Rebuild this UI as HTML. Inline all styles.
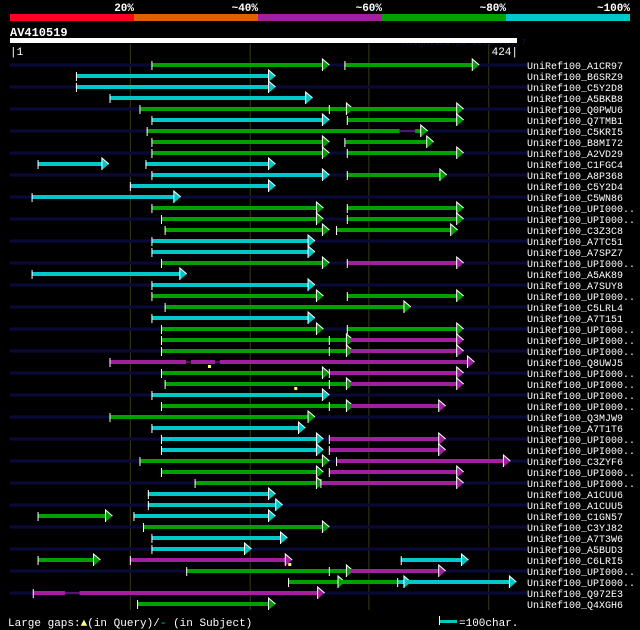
<!DOCTYPE html>
<html><head><meta charset="utf-8">
<style>
html,body{margin:0;padding:0;background:#000;}
svg{display:block;}
text{font-family:"Liberation Mono",monospace;}
</style></head>
<body>
<svg id="chart" width="640" height="630" viewBox="0 0 640 630" xmlns="http://www.w3.org/2000/svg">
<rect x="0" y="0" width="640" height="630" fill="#000"/>
<g>
<rect x="10" y="14" width="124" height="7" fill="#ff0022"/>
<rect x="134" y="14" width="124" height="7" fill="#e06000"/>
<rect x="258" y="14" width="124" height="7" fill="#a020a0"/>
<rect x="382" y="14" width="124" height="7" fill="#00a000"/>
<rect x="506" y="14" width="124" height="7" fill="#00c8c8"/>
<g font-size="11" font-weight="bold" fill="#fff" text-anchor="end">
<text x="134" y="11">20%</text>
<text x="258" y="11">~40%</text>
<text x="382" y="11">~60%</text>
<text x="506" y="11">~80%</text>
<text x="630" y="11">~100%</text>
</g></g>
<text x="10" y="36" font-size="12" font-weight="bold" fill="#fff">AV410519</text>
<text x="402" y="45" font-size="9" fill="#101040">AlignView.pm Beta rel.7</text>
<rect x="10" y="38" width="507" height="5" fill="#fff"/>
<text x="10" y="55" font-size="11" fill="#fff">|1</text>
<text x="518" y="55" font-size="11" fill="#fff" text-anchor="end">424|</text>
<g id="grid"></g>
<g id="rows"></g>
<g>
<text x="8" y="626" font-size="11" fill="#fff">Large gaps:<tspan fill="#ffff80">▲</tspan>(in Query)/<tspan fill="#00c8c8">-</tspan> (in Subject)</text>
<rect x="440" y="620" width="17" height="3" fill="#00c8c8"/>
<rect x="439" y="616" width="1" height="9" fill="#fff"/>
<text x="459" y="626" font-size="11" fill="#fff">=100char.</text>
</g>
</svg>
<script>
const names=["UniRef100_A1CR97","UniRef100_B6SRZ9","UniRef100_C5Y2D8","UniRef100_A5BKB8","UniRef100_Q0PWU6","UniRef100_Q7TMB1","UniRef100_C5KRI5","UniRef100_B8MI72","UniRef100_A2VD29","UniRef100_C1FGC4","UniRef100_A8P368","UniRef100_C5Y2D4","UniRef100_C5WN86","UniRef100_UPI000..","UniRef100_UPI000..","UniRef100_C3Z3C8","UniRef100_A7TC51","UniRef100_A7SPZ7","UniRef100_UPI000..","UniRef100_A5AK89","UniRef100_A7SUY8","UniRef100_UPI000..","UniRef100_C5LRL4","UniRef100_A7T151","UniRef100_UPI000..","UniRef100_UPI000..","UniRef100_UPI000..","UniRef100_Q8UWJ5","UniRef100_UPI000..","UniRef100_UPI000..","UniRef100_UPI000..","UniRef100_UPI000..","UniRef100_Q3MJW9","UniRef100_A7T1T6","UniRef100_UPI000..","UniRef100_UPI000..","UniRef100_C3ZYF6","UniRef100_UPI000..","UniRef100_UPI000..","UniRef100_A1CUU6","UniRef100_A1CUU5","UniRef100_C1GN57","UniRef100_C3YJ82","UniRef100_A7T3W6","UniRef100_A5BUD3","UniRef100_C6LRI5","UniRef100_UPI000..","UniRef100_UPI000..","UniRef100_Q972E3","UniRef100_Q4XGH6"];
// segments: [row, qStart, qEnd, colorKey, startTick, endArrow]
const segments=[
[0,119,265,"g",1,1],[0,280,390,"g",1,1],
[1,56,220,"c",1,1],[2,56,220,"c",1,1],[3,84,251,"c",1,1],
[4,109,285,"g",1,1],[4,285,377,"g",0,1],
[5,119,265,"c",1,1],[5,282,377,"g",1,1],
[6,115,326,"g",1,0],[6,339,347,"g",0,1],
[7,119,265,"g",1,1],[7,280,352,"g",1,1],
[8,119,265,"g",1,1],[8,282,377,"g",1,1],
[9,24,81,"c",1,1],[9,114,220,"c",1,1],
[10,119,265,"c",1,1],[10,282,363,"g",1,1],
[11,101,220,"c",1,1],[12,19,141,"c",1,1],
[13,119,260,"g",1,1],[13,282,377,"g",1,1],
[14,127,260,"g",1,1],[14,282,377,"g",1,1],
[15,130,265,"g",1,1],[15,273,372,"g",1,1],
[16,119,253,"c",1,1],[17,119,253,"c",1,1],
[18,127,265,"g",1,1],[18,282,377,"m",1,1],
[19,19,146,"c",1,1],[20,119,253,"c",1,1],
[21,119,260,"g",1,1],[21,282,377,"g",1,1],
[22,130,333,"g",1,1],[23,119,253,"c",1,1],
[24,127,260,"g",1,1],[24,282,377,"g",1,1],
[25,127,285,"g",1,1],[25,285,377,"m",0,1],
[26,127,285,"g",1,1],[26,285,377,"m",0,1],
[27,84,148,"m",1,0],[27,152,172,"m",0,0],[27,176,386,"m",0,1],
[28,127,265,"g",1,1],[28,267,377,"m",1,1],
[29,130,285,"g",1,1],[29,285,377,"m",0,1],
[30,119,265,"c",1,1],
[31,127,285,"g",1,1],[31,285,362,"m",0,1],
[32,84,253,"g",1,1],[33,119,245,"c",1,1],
[34,127,260,"c",1,1],[34,267,362,"m",1,1],
[35,127,260,"c",1,1],[35,267,362,"m",1,1],
[36,109,265,"g",1,1],[36,273,416,"m",1,1],
[37,127,260,"g",1,1],[37,267,377,"m",1,1],
[38,155,260,"g",1,1],[38,260,377,"m",1,1],
[39,116,220,"c",1,1],[40,116,226,"c",1,1],
[41,24,84,"g",1,1],[41,104,220,"c",1,1],
[42,112,265,"g",1,1],[43,119,230,"c",1,1],[44,119,200,"c",1,1],
[45,24,74,"g",1,1],[45,101,234,"m",1,1],[45,327,381,"c",1,1],
[46,148,285,"g",1,1],[46,285,362,"m",0,1],
[47,233,278,"g",1,1],[47,278,324,"g",0,0],[47,324,333,"c",1,1],[47,333,421,"c",0,1],
[48,20,47,"m",1,0],[48,59,261,"m",0,1],
[49,107,220,"g",1,1]
];
// inner ticks: [row, q]
const innerTicks=[[4,267],[25,267],[26,267],[29,267],[31,267],[46,267]];
// thin subject gaps: [row, qFrom, qTo]
const gaps=[[6,326,339],[27,148,152],[27,172,176],[48,47,59]];
// query gap markers: [row, q]
const queryGaps=[[27,167],[29,239],[45,234]];
// rows with dark background line
const bgRows=[0,2,4,6,8,10,12,14,16,18,20,22,24,26,28,30,32,34,36,38,40,42,44,46,48];
const gridQ=[101,201,300,400];

const QMIN=1,QMAX=424,X0=10,X1=517,Y0=65,DY=11;
const colors={g:"#00a000",c:"#00c8c8",m:"#a020a0"};
function xs(q){return X0+(q-QMIN)*(X1-X0)/(QMAX-QMIN);}
function ys(r){return Y0+r*DY;}
const NS="http://www.w3.org/2000/svg";
function mk(tag,attrs,parent){const e=document.createElementNS(NS,tag);for(const k in attrs)e.setAttribute(k,attrs[k]);parent.appendChild(e);return e;}
const grid=document.getElementById('grid'),rows=document.getElementById('rows');
gridQ.forEach(q=>{
  const l=mk('line',{x1:xs(q)+0.5,x2:xs(q)+0.5,y1:44,y2:610,stroke:"#3a3a12","stroke-width":1},grid);
  
  
});
bgRows.forEach(r=>{
  const b=mk('rect',{x:X0,y:ys(r)-1.5,width:517,height:3,fill:"#0a0a3a"},rows);
  
  
});
names.forEach((n,r)=>{
  const t=mk('text',{x:527,y:ys(r)+4,"font-size":10,fill:"#fff"},rows);
  t.textContent=n;
  
  
});
gaps.forEach(g=>{
  const l=mk('rect',{x:xs(g[1]),y:ys(g[0])-0.5,width:xs(g[2])-xs(g[1]),height:1,fill:colors.m},rows);
  
  
});
segments.forEach(s=>{
  const r=s[0],a=xs(s[1]),b=xs(s[2]),y=ys(r),col=colors[s[3]];
  const seg=mk('rect',{x:a,y:y-2,width:Math.max(1,b-a),height:4,fill:col},rows);
  
  
  if(s[4]){
    const t=mk('rect',{x:a,y:y-4,width:1,height:9,fill:"#fff"},rows);
    
    
  }
  if(s[5]){
    const p=mk('path',{d:`M${b-4},${y-6} L${b+3},${y} L${b-4},${y+6} Z`,fill:col},rows);
    
    
    const e=mk('path',{d:`M${b-4},${y+6} L${b-4},${y-6} L${b+3},${y}`,fill:"none",stroke:"#fff","stroke-width":1},rows);
    
    
  }
});
innerTicks.forEach(t=>{
  const e=mk('rect',{x:xs(t[1]),y:ys(t[0])-4,width:1,height:9,fill:"#fff"},rows);
  
  
});
queryGaps.forEach(g=>{
  const e=mk('rect',{x:xs(g[1])-1,y:ys(g[0])+3,width:3,height:3,fill:"#ffff60"},rows);
  
  
});
</script>
</body></html>
